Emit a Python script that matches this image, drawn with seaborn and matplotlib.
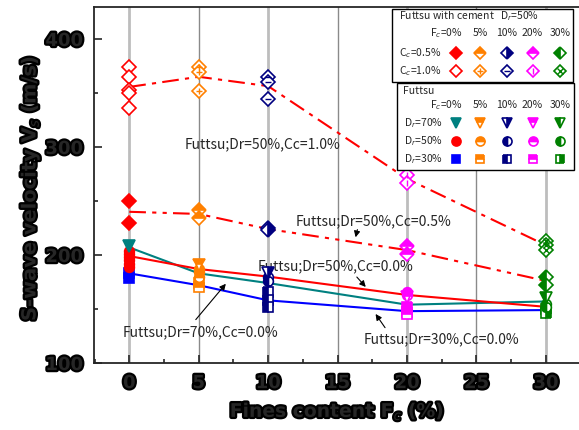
import numpy as np
import pandas as pd
import matplotlib
matplotlib.use("Agg")
import matplotlib.pyplot as plt
import matplotlib.patheffects as pe
from matplotlib.patches import Rectangle
from matplotlib.ticker import MultipleLocator
import seaborn as sns

# fines content (%) and the colour used for each one
fines = [0, 5, 10, 20, 30]
fines_labels = ["F$_c$=0%", "5%", "10%", "20%", "30%"]
fines_colors = ["#ff0000", "#ff8000", "#000080", "#ff00ff", "#008000"]

# Futtsu with cement, Dr=50%  (one list of Vs per fines content)
cc10_points = [[374, 365, 353, 350, 336], [374, 369, 352], [365, 360, 344], [274, 267], [213, 209, 205]]
cc05_points = [[250, 230], [242, 234], [225, 223], [208, 201], [180, 172]]

# Futtsu, no cement
dr70_points = [[208], [191], [183], [161], [160]]
dr50_points = [[204, 201, 198, 195, 192, 189], [187, 184, 180], [180, 176], [166, 163], [155, 152]]
dr30_points = [[183, 179], [174, 170], [166, 158, 152], [152, 147, 145], [150, 146]]

# fitted trend lines for the uncemented sand
dr70_line = [207, 183, 174, 154, 157]
dr50_line = [199, 187, 180, 163, 152]
dr30_line = [183, 172, 158, 148, 149]

cc_rows = ["C$_c$=0.5%", "C$_c$=1.0%"]
dr_rows = ["D$_r$=70%", "D$_r$=50%", "D$_r$=30%"]

# marker fill style per fines content
diamond_fill = ["full", "top", "right", "top", "left"]
tri_fill = ["full", "top", "right", "top", "left"]
circ_fill = ["full", "top", "left", "top", "left"]
sq_fill = ["full", "top", "left", "top", "right"]
cc10_inner = [None, "+", "_", "|", "x"]

sns.set_style("ticks")
plt.rcParams["font.family"] = ["Noto Sans CJK JP", "DejaVu Sans"]
plt.rcParams["axes.linewidth"] = 1.3

W, H = 579, 430
fig = plt.figure(figsize=(W / 100, H / 100), dpi=100)
ax = fig.add_axes([94 / W, 1 - 363 / H, (W - 94) / W, (363 - 7) / H])
ax.set_xlim(-2.54, 32.38)
ax.set_ylim(100, 429.6)

# vertical grid lines
for xv in range(0, 31, 5):
    if xv % 10 == 0:
        ax.axvline(xv, color="#bdbdbd", lw=2.0, zorder=0)
    else:
        ax.axvline(xv, color="#8a8a8a", lw=1.0, zorder=0)

# trend lines
df_lines = pd.DataFrame({"fines": fines, "dr70": dr70_line, "dr50": dr50_line, "dr30": dr30_line,
                         "cc10": [np.mean(p) for p in cc10_points],
                         "cc05": [np.mean(p) for p in cc05_points]})
sns.lineplot(data=df_lines, x="fines", y="cc10", ax=ax, color="#ff0000", lw=1.5,
             linestyle=(0, (8, 3, 2, 3)), zorder=2)
sns.lineplot(data=df_lines, x="fines", y="cc05", ax=ax, color="#ff0000", lw=1.5,
             linestyle=(0, (8, 3, 2, 3, 2, 3)), zorder=2)
sns.lineplot(data=df_lines, x="fines", y="dr70", ax=ax, color="#008080", lw=1.5, zorder=2)
sns.lineplot(data=df_lines, x="fines", y="dr50", ax=ax, color="#ff0000", lw=1.5, zorder=2)
sns.lineplot(data=df_lines, x="fines", y="dr30", ax=ax, color="#0000ff", lw=1.5, zorder=2)


def draw_marker(a, x, y, marker, color, fill, size, inner=None):
    if fill is None:
        a.plot(x, y, marker=marker, ls="none", ms=size, mfc="white", mec=color, mew=1.2, zorder=4)
    else:
        a.plot(x, y, marker=marker, ls="none", ms=size, mfc=color, mec=color, mew=1.2,
               fillstyle=fill, markerfacecoloralt="white", zorder=4)
    if inner:
        a.plot(x, y, marker=inner, ls="none", ms=size * 0.6, mec=color, mew=1.0, zorder=5)


for i, fc in enumerate(fines):
    col = fines_colors[i]
    tri_col = "#008080" if i == 0 else col
    sq_col = "#0000ff" if i == 0 else col
    for v in cc10_points[i]:
        draw_marker(ax, fc, v, "D", col, None, 7.5, cc10_inner[i])
    for v in cc05_points[i]:
        draw_marker(ax, fc, v, "D", col, diamond_fill[i], 7.5)
    for v in dr30_points[i]:
        draw_marker(ax, fc, v, "s", sq_col, sq_fill[i], 6.5)
    for v in dr50_points[i]:
        draw_marker(ax, fc, v, "o", col, circ_fill[i], 7)
    for v in dr70_points[i]:
        draw_marker(ax, fc, v, "v", tri_col, tri_fill[i], 8)

# annotations
arrow = dict(arrowstyle="-|>", color="black", lw=0.8, mutation_scale=9)
ax.text(3.96, 302.8, "Futtsu;Dr=50%,Cc=1.0%", fontsize=10, va="center", ha="left")
ax.text(11.98, 230.8, "Futtsu;Dr=50%,Cc=0.5%", fontsize=10, va="center", ha="left")
ax.annotate("", xy=(16.25, 213.9), xytext=(16.47, 226.0), arrowprops=arrow)
ax.text(9.24, 189.2, "Futtsu;Dr=50%,Cc=0.0%", fontsize=10, va="center", ha="left")
ax.annotate("", xy=(17.16, 168.5), xytext=(16.25, 181.5), arrowprops=arrow)
ax.text(16.9, 122.2, "Futtsu;Dr=30%,Cc=0.0%", fontsize=10, va="center", ha="left")
ax.annotate("", xy=(17.62, 147.5), xytext=(18.53, 130.6), arrowprops=arrow)
ax.text(-0.5, 128.4, "Futtsu;Dr=70%,Cc=0.0%", fontsize=10, va="center", ha="left")
ax.annotate("", xy=(7.08, 175.3), xytext=(4.66, 138.2), arrowprops=arrow)

# axes styling
heavy = [pe.withStroke(linewidth=3.2, foreground="black")]
ax.xaxis.set_major_locator(MultipleLocator(5))
ax.xaxis.set_minor_locator(MultipleLocator(2.5))
ax.yaxis.set_major_locator(MultipleLocator(100))
ax.yaxis.set_minor_locator(MultipleLocator(50))
ax.tick_params(which="both", direction="in", top=False, right=False, width=1.2)
ax.tick_params(which="major", length=6, pad=8)
ax.tick_params(which="minor", length=3)
for lab in ax.get_xticklabels() + ax.get_yticklabels():
    lab.set_fontfamily("DejaVu Sans")
    lab.set_fontweight("bold")
    lab.set_fontsize(13)
    lab.set_path_effects(heavy)
ax.spines["right"].set_visible(False)
ax.set_xlabel("")
ax.set_ylabel("")
fig.text(30 / W, 1 - 188 / H, "S-wave velocity V$_s$ (m/s)", rotation=90, ha="center", va="center",
         fontsize=14, fontweight="bold", family="DejaVu Sans", path_effects=heavy)
fig.text(337 / W, 1 - 411 / H, "Fines content F$_c$ (%)", ha="center", va="center",
         fontsize=13.5, fontweight="bold", family="DejaVu Sans", path_effects=heavy)

# legend boxes drawn in pixel space
ov = fig.add_axes([0, 0, 1, 1], zorder=10)
ov.set_xlim(0, W)
ov.set_ylim(H, 0)
ov.axis("off")
cols_x = [456, 480, 506.5, 532.5, 560]
lfs = 7.5

ov.add_patch(Rectangle((392, 9), 181, 73, facecolor="white", edgecolor="black", lw=1.0))
ov.text(399, 16, "Futtsu with cement   D$_r$=50%", fontsize=lfs, va="center")
ov.add_patch(Rectangle((397, 83), 177, 87, facecolor="white", edgecolor="black", lw=1.0))
ov.text(403, 91, "Futtsu", fontsize=lfs, va="center")

for y0 in (33.5, 105):
    for j, lab in enumerate(fines_labels):
        if j == 0:
            ov.text(cols_x[0] + 7, y0, lab, fontsize=lfs, va="center", ha="right")
        else:
            ov.text(cols_x[j], y0, lab, fontsize=lfs, va="center", ha="center")

cc_y = [52.7, 70.7]
for r, lab in enumerate(cc_rows):
    ov.text(399, cc_y[r], lab, fontsize=lfs, va="center")
    for j in range(len(fines)):
        if r == 0:
            draw_marker(ov, cols_x[j], cc_y[r], "D", fines_colors[j], diamond_fill[j], 6.5)
        else:
            draw_marker(ov, cols_x[j], cc_y[r], "D", fines_colors[j], None, 6.5, cc10_inner[j])

dr_y = [122.7, 141, 159.3]
for r, lab in enumerate(dr_rows):
    ov.text(404, dr_y[r], lab, fontsize=lfs, va="center")
    for j in range(len(fines)):
        col = fines_colors[j]
        if r == 0:
            draw_marker(ov, cols_x[j], dr_y[r], "v", "#008080" if j == 0 else col, tri_fill[j], 7.5)
        elif r == 1:
            draw_marker(ov, cols_x[j], dr_y[r], "o", col, circ_fill[j], 6.5)
        else:
            draw_marker(ov, cols_x[j], dr_y[r], "s", "#0000ff" if j == 0 else col, sq_fill[j], 6)

fig.savefig("out.png", dpi=100)
